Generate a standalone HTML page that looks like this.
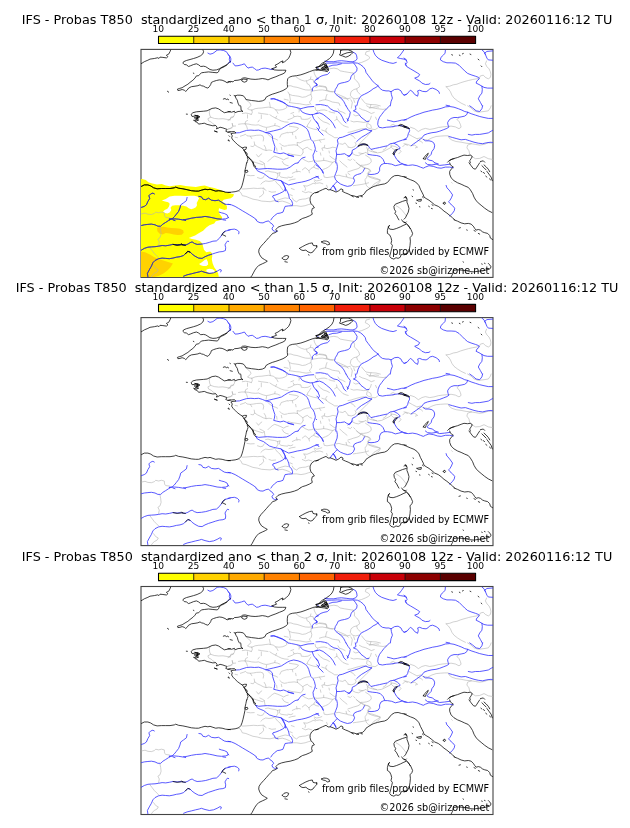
<!DOCTYPE html>
<html lang="en">
<head>
<meta charset="utf-8">
<title>IFS - Probas T850</title>
<style>
html,body{margin:0;padding:0;background:#fff}
svg{display:block;will-change:transform}
text{font-family:"DejaVu Sans","Liberation Sans",sans-serif;fill:#000}
.ti{font-size:12.81px}
.tk{font-size:9.1px;text-anchor:middle}
.an{font-size:9.68px;text-anchor:end}
.c{fill:none;stroke:#000;stroke-width:.75;stroke-linejoin:round;stroke-linecap:round}
.r{fill:none;stroke:#3030ff;stroke-width:.8;stroke-linejoin:round;stroke-linecap:round}
.b{fill:none;stroke:#b2b2b2;stroke-width:.6;stroke-linejoin:round;stroke-linecap:round}
.r2{fill:none;stroke:#3a3a8c;stroke-width:.8;stroke-linejoin:round;stroke-linecap:round}
.b2{fill:none;stroke:#c8c896;stroke-width:.7}
.fr{fill:none;stroke:#444;stroke-width:1.1}
</style>
</head>
<body>
<svg width="630" height="828" viewBox="0 0 630 828">
<rect width="630" height="828" fill="#fff"/>
<defs>
<clipPath id="cpf"><rect x="141.0" y="49.4" width="352.0" height="227.5"/></clipPath>
<clipPath id="cp"><rect x="141.0" y="49.4" width="352.0" height="228.0"/></clipPath>
<path id="pb" d="M313.7,70.2 L314.4,73.8 L316.3,77.4 L318.3,78.1 M369.6,50.9 L366,51.9 L365.3,54.5 L368.1,55.9 L370,57.7 L368.1,59.5 L365.3,60.9 L361.7,62.4 L358.9,63.1 M329.6,68.8 L333.9,68.1 L337.4,68.8 L340.3,70.9 L344.6,71.7 L348.9,72.4 L353.1,73.1 M353.1,73.1 L354.6,75.9 L354.3,78.8 L356.7,80.9 L358.9,83.8 L359.6,86.7 L356.7,88.8 L357.4,91.7 L360.3,94.5 M356.7,88.8 L353.9,89.5 L351,91.7 L350.3,95.2 L352.4,98.1 L355.3,98.8 L358.9,98.1 M316,87.4 L318.9,86.2 L322.4,86.7 L326,87.4 L326.7,90.2 L330.3,91.4 L334.6,91.7 M338.9,96.7 L343.1,98.1 L346.7,98.8 L350.3,98.1 M361.7,98.8 L363.9,101.7 L366,103.8 L370.3,104.5 L376,104.8 L380.3,105.9 M446.1,86.7 L449.7,86.2 L453.3,84.8 L456.9,84.2 L460.4,82.8 L464,81.7 L468.3,80.5 L472.6,79.5 L476.9,78.8 L479.3,78.1 L480.4,75.9 L483.3,75.2 L485.4,77.4 L488.3,78.8 L490.4,77.4 L490.9,74.5 L490.4,71.7 L489,68.8 L486.9,66.7 L485.4,63.8 L486.6,60.9 M446.1,86.7 L448.3,88.8 L450.4,91.7 L451.9,95.2 L454,98.1 L457.6,100.9 L461.1,103.1 L465.4,105.2 M210,109.4 L209.3,112.2 L209.7,115.1 L210.7,117.2 L214.3,118.4 L218.6,118.9 L222.9,118.7 L227.1,119.4 L230.3,119.8 M210.7,117.2 L207.9,118.7 L208.6,120.8 L211.4,122.2 L212.9,123.7 L215.7,125.5 M371.7,130.8 L369.6,133.7 L366.7,136.5 L363.1,140.1 L360.3,142.9 L358.9,144.4 M371,149.4 L373.1,151.5 L377.4,152.9 L381.7,152.2 L386,150.1 L390.3,147.9 L391.7,145.8 L395.3,146.5 L398.9,148.7 L401,151.5 L398.9,153.7 M366.7,105.8 L368.9,107.2 L373.1,107.9 L377.4,108.7 L383.1,109.4 L386.7,108.7 M358.9,152.9 L363.1,153.7 L366,152.2 L368.1,154.4 L367.4,150.1 L368.9,147.9 M410.4,127.2 L414.7,128.7 L418.3,131.5 L421.9,129.4 L425.4,128.4 L429.7,129.4 L434,128.7 L438.3,127.5 L442.6,126.9 L446.9,126.5 L451.1,126.1 L455.4,126.9 L459,128.7 L461.1,127.2 L460.4,124.4 L459,121.5 L456.9,119.4 L459,117.9 M409,134.4 L412.6,136.5 L416.9,138.7 L420.4,137.9 L423.3,139.4 L427.6,140.1 L431.9,137.9 L436.1,136.5 L440.4,136.1 L444.7,135.8 L448.3,135.8 L449,137.9 L451.9,140.1 L456.1,141.5 L461.1,142.2 L466.1,143.2 L471.1,143.7 M467.6,105.8 L471.1,107.9 L474,110.8 L478.3,112.2 L484,111.5 L488.3,110.8 L490.4,107.9 L491.1,105.8 M404,143.7 L407.6,144.4 L411.1,145.8 L414.7,145.1 L417.6,147.2 L415.4,147.9 M417.6,140.1 L421.1,141.5 L422.6,142.9 M471.1,143.7 L467.6,145.1 L466.9,147.9 L469,150.8 L469.7,154.4 L471.9,156.5 M471.1,143.7 L475.4,144.4 L479.7,145.1 L484,144.4 L488.3,142.9 L492.6,143.2 M471.9,156.5 L475.4,158.7 L479.7,158.4 L484,156.5 L488.3,158.7 L492.6,159.4 M140,214.2 L141.4,213.9 L145,213.1 L147.9,214.2 L151.4,214.5 L154.3,213.5 L155.7,212.1 L158.6,212.8 L161.4,212.1 L164.3,212.8 L164.6,215.9 L165.7,217.4 L169.3,217.8 M238.7,190.7 L240.9,192.8 L242.3,195.7 L245.9,196.4 L249.4,197.8 L253,199.2 L257.3,199.9 L261.6,201.1 L265.9,201.4 L270.1,201.7 L274.4,200.7 L278,201.7 L282.3,201.1 L285.9,202.1 L289.4,203.5 L292.3,205.7 L296.6,205.7 L300.9,206.4 L305.1,205.7 L308.7,204.5 L311.6,203.9 M371,187.8 L373.9,184.2 L377.4,182.1 L380.3,179.9 L376.7,178.5 L372.4,177.1 L368.9,176.4 L367.4,173.5 L369.6,170.7 L368.1,168.5 L364.6,168.5 L361.7,166.4 L358.9,164.9 L356.7,162.8 M396,205.7 L399.6,207.8 L402.4,210.7 L404.6,213.5 L406.3,215.7 M451.6,182.5 L452.3,183.2 M160,226.9 L160.7,230.5 L161.1,234.1 L160,237.7 L157.9,239.1 L159.3,241.9 L158.6,245.5 M150,247.7 L152.1,250.5 L154.3,253.4 L156.4,255.5 L158.6,257.7 M153.6,265.5 L155.7,268.4 L158.3,269.8 L157.1,271.9 L154.3,273.4 L152.1,275.5 L151.4,276.9 M246.6,100.1 L248.5,102 L250.4,103.5 L250.9,105.4 L249.4,107.3 L247.5,108.7 L249.4,109.7 L251.8,110.1 M251.8,110.1 L255.1,108.7 L258.5,108.2 L261.8,108 L265.1,107.5 L268.5,107.1 L270.9,107.5 L273.2,108 L275.6,109.7 L277,111.6 L278,113.5 M269.4,102.3 L269.9,104.9 L270.4,107.3 M275.6,109.7 L279,110.1 L282.3,109.7 L285.1,108.7 L287,107.3 L286.1,105.4 L287.5,104.4 M251.8,110.1 L252.3,112.5 L251.3,114.4 M242.3,113.5 L245.6,113 L248.5,113.5 L251.3,114.4 M284.2,99.2 L286.6,99.7 L288.2,100.1 M258.5,113 L261.3,113.5 L264.2,113.9 L268,114.4 M288,85.8 L290.9,85.8 L293.7,86.8 L297,87.3 L299.9,88.2 L302.8,89.2 L305.6,89.9 L309,90.1 L311.8,89.7 M296.1,76.8 L298.5,78.7 L301.3,80.1 L304.7,81.1 L307.5,80.6 L310.4,79.2 L313.2,79.7 L313.7,82.5 L316.6,83.9 M310.4,79.2 L310.9,76.8 M306.6,81.1 L307,83.5 L309.4,84.9 L310.4,87.3 L311.8,89.7 M311.8,91.1 L315.1,90.6 L318.5,90.1 L322.3,89.9 L326.1,90.6 L329.4,91.6 L332.8,92 M319.4,85.8 L322.8,86.1 L326.1,86.8 L327,89.2 L326.1,90.6 M288,92 L289.4,94.4 L292.3,95.4 L295.6,95.8 L299,96.3 L302.3,97.3 L305.6,96.8 L308.5,95.4 L310.9,94.4 L311.3,91.1 M289.4,94.4 L289.9,97.3 L290.4,100.1 L289.4,102.5 M289.4,102.5 L292.8,103 L296.1,103.5 L299.4,103.7 L302.8,104.4 L306.1,104.9 L309.4,104.4 M310.9,94.4 L311.8,97.3 L311.3,100.1 L309.4,102 L310.9,104.4 M327,94.4 L326.1,96.8 L325.6,99.7 L322.8,100.1 L319.4,101.1 M325.6,99.7 L329,100.6 L332.3,102 L335.6,102.5 L339,103 L339.9,105.4 M337,93.9 L340.4,95.4 L343.7,96.8 L346.6,98.2 L348.2,100.1 M315.1,107.3 L315.6,109.7 L317.5,111.1 M317.5,111.1 L320.9,110.1 L324.2,109.9 L327,110.6 M338,108.7 L339.4,111.1 L342.3,112 L345.1,113.5 M329,111.6 L331.8,112.5 L334.7,113 M290.9,113.5 L293.7,112.5 M297.5,108.2 L299.4,109.7 L299,112 M350.9,99.7 L352.3,102.5 L351.8,105.4 L351.3,108.2 M353.7,99.7 L354.7,102.5 M370.9,104.4 L370.4,106.8 L369.4,108.2 L372.8,107.3 L375.6,106.8 L378.5,107.1 M359.4,108.2 L362.3,109.7 L365.6,110.6 L368.5,112 L371.3,113.5 L374.2,112.5 M238.5,124.3 L241.8,123.8 L245.1,123.8 L248.5,124.1 L251.8,124.8 L255.6,125.1 L258.5,124.8 L260.9,125.8 L263.2,126.7 L266.1,127.4 L269,127 L271.8,126.2 L274.7,125.5 L277.5,126 L279.9,127 M245.1,123.8 L245.6,121.5 L247.5,120.5 M245.1,123.8 L246.6,126.2 L247.5,129.1 M247.5,114.8 L247.5,118.1 M261.3,114.8 L261.3,118.6 M259.4,120 L258,121.9 M275.1,123.4 L274.7,125.5 M266.6,128.1 L266.1,131 M232.3,123.4 L232.8,126.2 L235.6,126 M228,120.5 L229.9,119.6 L230.9,117.2 L233.7,116.7 M228,129.1 L230.4,128.6 L232.3,127.7 M240.4,136.2 L243.2,135.3 L245.6,134.3 L247,135.8 L250.4,136.2 L253.7,135.8 L256.6,135.3 L260.4,135.1 L262.8,135.8 L263.7,138.1 L263.2,141 M250.4,136.2 L251.8,138.6 M268,134.3 L270.4,136.7 L272.8,138.1 L275.6,139.1 L277.5,140 M279.9,137.2 L281.3,134.3 L284.2,133.4 L287.5,132.4 M235.1,137.2 L237.5,137.7 M254.2,141.9 L254.7,144.8 L253.2,146.7 L250.9,146.2 M254.7,144.8 L257.5,146.7 L260.4,148.1 L263.2,149.6 L266.1,150.5 L269,150 L271.8,150.5 M264.2,145.3 L265.6,147.7 L266.1,150.5 M279.9,143.4 L281.8,145.3 L284.2,146.2 L287,145.8 M276.6,148.1 L277,151 M281.3,147.2 L281.8,149.6 M269.9,114.8 L272.8,116.7 L275.6,118.1 L278.5,119.6 L281.3,121 L284.7,121.9 L288.2,122.2 M275.6,118.1 L276.6,116.2 M293.2,114.8 L294.2,116.7 L292.3,118.1 L289.9,119.1 L288,119.6 M294.2,116.7 L297.5,116.2 L300.9,116.7 L301.3,119.1 L304.7,119.4 L308,119.1 L310.4,117.7 M310.9,120 L309.4,122.4 L308,124.3 L307,126.7 M307,126.7 L310.4,128.1 L313.7,129.1 L317,129.6 M289.4,126.2 L292.8,126.7 L296.1,127.2 L298.5,128.1 L297,130 L294.7,131.5 L292.3,132.4 L289.4,132.4 L288,132.9 M292.3,132.4 L292.8,134.8 M295.6,136.2 L296.1,138.6 M318,117.2 L320.9,120 L323.7,121.9 L327,122.9 L329.4,124.3 M334.7,120.5 L337,119.1 L339.9,122.4 L342.8,125.3 L346.1,126.7 L348.2,127.2 M337,119.1 L336.6,116.7 M327,128.1 L325.6,130 L326.6,132.4 L329,134.3 L331.8,135.8 L334.7,137.7 L337.5,137.7 M321.8,130 L324.7,131 L326.6,132.4 M288,145.3 L290.9,145.1 L294.2,144.8 L297.5,145.3 M297.5,145.3 L297,142.4 L299.9,142.9 L303.2,141 L306.6,140 L309.4,139.6 M297.5,145.3 L300.4,147.7 L302.8,149.6 L305.1,148.1 L307.5,147.2 L309.4,149.1 L311.8,150 M302.8,149.6 L303.2,152.4 M313.7,141 L316.6,140.5 L319.4,140 L320.9,142.4 M319.4,140 L322.3,139.6 L324.7,139.1 M324.7,145.3 L324.2,147.7 L321.8,148.1 L322.8,150.5 M324.2,147.7 L327,148.6 L329.9,148.1 L332.8,147.2 L335.6,147.7 M339.9,143.8 L342.8,144.3 L345.1,142.9 L347,145.3 L348.2,146.7 M329,151 L329.4,152.9 M353.7,114.8 L355.6,115.8 L358.5,115.3 M350.9,121 L353.7,121.9 L357,121.5 L360.4,121.9 L363.7,122.4 L366.6,121.9 M371.3,116.2 L370.4,119.1 L368.5,121.5 L367,123.8 L366.6,126.7 L368.5,128.1 L371.8,129.1 L375.1,129.6 L377.5,128.1 M368.5,123.8 L370.9,125.3 L371.3,127.7 M348,132.4 L350.9,131.9 L353.7,131 L357,130 L360.4,129.1 L363.7,128.6 L366.6,129.1 M375.6,117.2 L376.6,119.6 M390.9,125.3 L393.2,124.3 L395.6,125.8 L392.8,127.2 M350.9,135.3 L353.2,136.2 L355.1,138.6 M355.1,142.4 L356.1,144.3 L354.7,146.7 L351.3,147.7 L348,147.2 M366.6,147.2 L367.5,149.6 L369.9,151 L372.8,151.9 L376.6,152.4 M390.9,144.3 L391.3,147.2 L393.2,149.1 L395.6,150 M402.8,146.7 L405.1,144.3 L407.5,145.3 M386.6,146.2 L385.6,148.6 L383.2,150 M256.6,154.7 L258.5,157.1 L259.9,155.2 L261.8,153.8 M268,161.4 L270.4,159 L272.8,157.1 L274.7,156.1 L277.5,157.1 L280.9,158.5 L283.7,159.9 L286.1,158.5 L288.2,158 M253.7,161.8 L256.6,162.8 L259.9,163.8 L262.8,164.7 L264.2,163.3 L264.7,166.1 L265.1,168.5 M259.9,160.9 L262.8,162.3 L264.2,163.3 M282.3,161.4 L283.7,163.8 L286.1,165.2 L288.2,165.7 M247,175.2 L250.4,175.7 L254.2,175.5 M257.5,177.6 L260.4,178.5 L262.8,178 L264.2,175.7 M265.6,171.4 L268,170.9 L270.9,171.8 L274.7,172.3 L277.5,173.3 L279.9,172.8 M279.9,172.8 L279.4,175.7 L280.9,177.1 L284.2,177.6 L287.5,178 M277.5,173.3 L278,176.1 L276.6,178.5 M260.9,184.2 L262.8,182.3 L265.6,180.9 L269,181.4 L272.3,180.9 L275.1,179.9 M275.6,181.4 L277.5,183.8 L279.9,185.7 L281.3,188 L283.2,190.4 M242.3,189 L246.1,188.8 L249.9,188.5 L253.7,188.2 L257.5,188.5 L261.3,188.2 L264.2,189 L266.1,190.4 M263.2,187.6 L264.2,189 M288,153.3 L290.9,154.2 L293.7,154.7 L297,155.2 L300.4,155.7 L302.3,154.2 L302.8,152.8 M302.3,158.5 L305.1,160.4 L308.5,161.8 L311.8,161.4 L313.2,160.9 M314.2,160.9 L317.5,161.2 L320.9,160.9 L323.7,160.4 L327,160.9 L329.9,161.8 L332.8,162.3 L335.6,160.9 M323.7,158 L323.7,160.4 M320.4,152.8 L320.9,155.2 M329.9,156.1 L332.3,158 L334.7,159.5 L336.6,158.5 M332.8,162.3 L330.9,164.7 L328.5,167.1 L325.6,168.5 L322.8,169.5 M302.3,169.9 L305.1,167.6 L307,169 L309,170.9 L310.9,168.5 L313.7,167.1 L315.1,164.7 M309,170.9 L309.4,172.8 M313.7,167.1 L316.1,168.5 L318.5,169 M292.3,173.3 L295.6,171.8 L299,171.4 L300.4,171.8 M296.6,169.5 L297,171.8 M288,177.1 L290.9,177.6 L292.8,176.6 M289,180.4 L291.8,179.5 L295.1,179 M323.7,174.7 L324.2,177.1 L327,177.6 L330.4,177.1 L333.2,176.6 L334.7,177.1 M314.2,179.9 L316.6,180.9 L319.4,180.4 L321.8,179.5 M314.2,181.4 L316.6,183.3 L319.9,182.8 L322.8,183.8 M303.7,185.7 L307,186.1 L310.4,184.7 L313.2,183.3 L315.6,183.8 M336.1,175.7 L339,175.2 L341.8,176.1 L344.7,176.6 L347.5,177.1 M339.9,160.9 L342.3,163.3 L344.7,165.2 L347,167.1 M346.1,174.2 L346.6,176.6 M326.6,185.2 L327.5,187.6 M291.3,188.5 L294.2,189.5 M304.2,186.1 L305.6,188.5 L305.1,190.4 M352.8,153.8 L355.6,155.2 L358.5,155.7 L361.3,154.2 L363.2,153.3 M365.6,155.2 L368.5,157.1 L370.9,159 L371.3,161.8 L369.4,163.8 L366.6,164.7 L363.7,165.2 L361.3,165.2 M353.7,159.5 L355.1,160.9 M356.1,162.3 L358.5,164.2 L360.9,165.7 L359.4,168 L357,169 L353.7,169.9 L350.9,170.9 L348,171.8 M360.9,165.7 L363.7,167.1 L367,168.5 L369.9,169.5 L370.9,171.4 L368.5,172.8 L368.5,174.2 M367.5,175.2 L366.6,177.6 L365.1,179.5 M368.5,176.6 L371.8,178 L375.1,179 L378.5,179.5 L380.4,180.4 L379,182.8 L376.6,184.7 M348,177.6 L350.4,178 L352.8,178.5 M353.2,185.7 L356.6,185.2 L359.9,184.7 L363.2,184.2 L366.6,183.3 L368.5,182.8 M365.1,180.4 L365.6,183.3 L366.6,185.7 L368.5,187.6 L370.4,188.5 M348,173.3 L349.9,174.7 M348,159.5 L350.4,160.4 L351.8,159 M263.2,190.8 L263.7,193.2 L261.8,195.6 L259.4,197 M269,191.3 L271.8,192.2 L275.6,191.8 M277.5,200.3 L281.3,198.9 L285.1,197.9 L288.2,198.4 M292.3,197.9 L293.7,200.3 L296.6,201.8 L299,199.8 L302.3,199.2 L305.6,198.9 L308.5,197.9 M302.3,191.3 L305.6,192.7 L308.5,191.8 L311.8,192.7 M289.9,194.6 L292.3,195.6 M229.8,119.5 L230.8,118.1 L233.1,117.1 L234.6,114.8 L234.1,111.9 M232.2,123.8 L232.7,126.2 L230.8,128.1 L228.4,129"/>
<path id="pr" d="M207.9,53.1 L210,54.2 L212.9,53.4 L215,51.9 L217.1,50.2 L220,49.9 L223.6,50.5 L226.4,51.7 L228.3,54.5 L229.7,56.7 L229.3,59.5 L230.3,62.4 M228,54.5 L229.7,55.9 L230.9,58.8 L230.6,61.7 L228.7,63.1 L228,63.4 M233,63.1 L235.1,65.9 L238,65.7 L241.6,64.8 L244.4,63.8 L245.9,65.9 L248,68.1 L250.1,67.4 L252.3,67.1 L254.4,68.5 L256.6,70.2 L258.7,69.9 L261.6,68.5 L265.1,68.1 L268.7,68.8 L270.9,69.5 L273.7,68.8 M270.9,98.8 L273.7,98.5 L276.6,99.5 L279.4,100.5 L282.3,101.7 L285.1,103.4 L287.3,105.2 L288,105.9 M271.1,99.1 L274,98.9 L276.9,99.9 L279.7,101.1 L282.6,102.2 L285.4,103.9 M318.3,78.8 L315.9,79.5 L314.4,81.7 L315.9,83.8 L317.3,85.2 L314.4,86.2 L312.6,88.1 L312.3,90.9 M316.9,67.4 L318.3,68.5 M326,63.1 L331.7,63.1 L337.4,62.8 L343.1,63.1 L348.9,63.1 L353.4,62.8 L357.4,63.1 L360.3,64.5 L363.1,66.7 L365.3,69.5 L366,72.4 L368.1,75.2 L370.3,78.1 L372.4,80.9 L375.3,83.8 L378.1,85.7 L379.6,88.1 L382.4,90.2 L386,90.9 L388.9,90.9 L391,91.7 L394.6,89.5 L398.1,89.1 L401,90.9 L402.4,93.8 L404.6,95.2 L406.3,94.2 M391,91.7 L391.4,94.5 L392.4,98.1 L391,101.7 L390.3,105.9 M378.1,85.7 L376,87.4 L373.1,88.8 L371,90.5 L368.1,92.4 L364.6,94.2 L361.4,95.7 L359.6,98.1 L358.1,100.9 L357.4,103.8 L356.7,105.9 M353.4,62.8 L355.3,65.2 L357.1,68.1 L356.7,70.9 L354.6,73.1 L352.4,74.5 L351,76.7 L350.3,79.5 L348.1,81.4 L344.6,82.4 L341,83.1 L338.1,84.2 L337.1,86.7 L335.3,89.5 L334.6,92.4 L336,94.5 L338.9,96.7 L341.7,98.8 L343.9,101.7 L345.3,104.5 L346,105.9 M329.6,72.4 L327.4,74.5 L323.9,75.2 L321,76.2 L318.1,78.1 L316,79.5 M316,83.1 L317.4,84.5 L316,86.2 M373.1,49.9 L373.9,52.4 L375.3,55.2 L378.1,58.1 L381.7,60.2 L386,61.7 L389.6,62.8 L393.1,63.4 L396.3,62.4 M403.9,49.9 L401.7,53.1 L399.6,55.9 L397.4,57.7 L400.3,58.5 L403.9,59.1 L406.3,60.2 M405.3,63.1 L406.3,65.9 M316,104.8 L320.3,104.5 L324.6,105.2 L326.7,105.9 M404,58.1 L406.1,59.5 L407.1,62.4 L405.4,64.5 L406.9,66.7 L410.4,68.8 L414,70.9 L417.6,73.1 L419.7,74.5 L418.3,76.7 L414.7,78.1 L416.9,79.5 L419.7,80.9 L421.9,83.1 L425.4,84.5 L429,84.2 L430,83.4 M404,95.2 L406.9,94.2 L409,91.7 L410.4,90.2 L412.6,91.7 L414.7,94.5 L417.6,96.2 L418.3,93.1 L417.6,90.9 L419.7,90.2 L422.6,91.4 L426.1,91.7 L428.3,90.5 L429.7,88.8 L432.6,88.1 L436.1,89.5 L439,91.7 L439.4,93.4 M445.4,49.9 L445.1,53.1 L443.3,55.2 L440.9,57.4 L440.4,59.9 L443.3,61.7 L446.9,62.8 L451.1,62.8 L455.4,63.1 L459,65.2 L461.9,68.1 L464.7,70.9 L467.6,73.4 L471.1,74.8 L475.4,76.2 L478.6,77.4 L479.3,78.8 L476.9,80.9 L476.1,83.1 L479,84.5 L481.9,86.2 L484,87.4 L487.6,88.1 L492.6,88.1 M481.9,86.2 L482.3,89.5 L481.9,93.1 L479.7,95.9 L478.3,98.8 L480.4,102.4 L482.3,105.9 M481.9,49.9 L484,51.7 L485.4,54.5 L486.9,58.1 L488.3,59.9 L492.6,60.2 M485.4,54.5 L484.7,53.1 L486.9,51.4 L492.6,50.9 M446.1,105.2 L449.7,105.9 M235.9,132.9 L239.4,132.7 L243,131.5 L246.6,130.4 L250.9,130.1 L254.4,130.4 L258.7,130.1 L262.3,131.2 L265.9,132.7 L269.4,131.8 L273.7,130.8 L278,129.8 L281.6,128.7 L284.4,126.9 L287.3,125.1 L290.1,123.7 L293.7,122.9 L298,123.7 L301.6,125.1 L305.1,127.2 L307.3,129.4 L308.7,132.2 L309.7,135.8 L310.9,139.4 L313,141.5 L314.4,144.4 L315.4,148.7 L314.4,152.2 L313,155.1 L313.4,158.7 L315.1,162.9 M265.9,132.7 L270.1,133.7 L272.3,135.8 L272.6,139.4 L273.7,142.9 L274.9,146.5 L274.4,150.1 L273.7,152.2 L276.6,152.9 L280.1,153.7 L283.7,152.9 L286.6,154.1 L290.1,155.5 L293.4,156.1 M298,162.9 L300.1,160.1 L302.3,157.9 L305.1,157.2 M288,105.8 L291.6,106.5 L295.1,107.2 L298,107.9 L300.9,108.7 L303.7,107.9 L308,106.9 L313.7,106.5 M300.1,109.4 L302.3,112.2 L305.9,113.7 L310.1,114.7 L313.7,114.4 L317.3,112.9 M312.3,115.1 L313.7,118.7 L315.9,121.5 L318.3,123.7 M316.9,127.9 L318.3,129.4 M316,113.7 L319.6,112.9 L323.1,114.4 L326.7,117.2 L330.3,120.1 L333.1,123.7 L335.3,127.9 M327.4,105.8 L330.3,108.7 L333.9,110.8 L337.4,111.5 L340.3,113.7 L342.4,117.2 L343.9,120.8 L346,122.9 M316,121.5 L318.1,124.4 L319.6,127.9 L318.1,130.1 L321,132.9 L323.1,135.1 M346,105.8 L348.1,109.4 L350.3,112.2 L349.6,115.8 L348.1,119.4 L347.4,121.2 M355.3,105.8 L356,109.4 L353.4,110.8 L356.7,112.2 L358.9,114.4 L361,117.2 L363.9,119.4 L366.7,121.5 L368.9,121.2 M389.6,105.8 L386.7,108.7 L383.9,111.5 L381.7,114.4 L379.6,117.2 L378.1,120.8 L377.7,124.4 L378.9,127.2 L382.4,127.9 L386.7,127.2 L391,126.9 L395.3,126.1 L399.6,125.5 L402.4,125.8 L406.3,127.2 M371.7,130.8 L368.1,130.1 L366,128.9 L363.1,129.8 L358.9,131.5 L354.6,132.9 L350.3,134.1 L346,135.8 L342.4,137.2 L338.9,137.9 L337.4,140.1 L338.1,143.7 L337.1,147.2 L336,150.8 L336.7,154.4 L336,158.7 L335.7,162.9 M371.7,130.8 L368.9,132.9 L365.3,135.1 L361.7,137.2 L358.9,139.4 L356.7,141.5 M336.7,154.4 L340.3,154.4 L344.6,153.7 L346.7,155.1 L349.6,156.5 L351.7,153.7 L352.4,150.1 L355.3,148.7 L358.1,146.5 L360.3,144.7 L364.6,144.1 L368.1,145.5 L369.6,147.9 L371,149.4 L375.3,148.4 L379.6,147.5 L383.9,146.5 L387.4,145.8 L390.3,143.7 L393.9,143.2 L398.1,141.5 L402.4,140.1 L406.3,139.4 M387.4,120.1 L390.3,120.8 L393.9,121.8 L397.4,121.2 L401.7,120.1 L406.3,119.8 M393.9,143.2 L397.4,145.1 L400.3,147.9 L398.1,149.4 L395.3,150.8 L393.9,152.9 L394.6,155.8 L396.7,159.4 L399.6,162.2 M368.1,154.4 L372.4,155.1 L376.7,155.5 L380.3,156.5 L383.1,159.4 L384.6,162.9 M316,150.8 L316.7,151.5 M404,120.1 L407.6,118.7 L411.1,116.9 L415.4,115.1 L419.7,113.7 L424,112.2 L428.3,111.2 L432.6,110.1 L436.9,109.4 L441.1,108.4 L445.4,106.9 L449.7,106.5 L454,107.2 L458.3,108.7 L461.9,110.1 L464.7,111.5 L467.6,112.2 L471.1,113.7 L475.4,115.1 L479.7,116.5 L484,117.5 L488.3,118.4 L492.6,118.4 M467.6,112.2 L466.9,114.4 L464.7,116.1 L461.1,116.9 L457.6,117.5 L454,117.5 L451.1,118.4 L449,120.1 L447.6,122.7 L448,125.1 L449,126.9 L446.9,128.4 L443.3,129.8 L439.7,131.2 L436.1,132.2 L431.9,132.7 L427.6,133.7 L424,135.1 L421.9,137.9 L419,140.1 L416.1,142.2 L413.3,144.1 L411.1,145.8 M406.1,126.9 L409,128.7 L409.7,130.8 L408.3,133.7 L407.6,136.5 L406.1,138.7 L404,139.4 M423.3,139.4 L425.4,140.8 L429,140.8 L431.9,141.5 L434,143.2 L434.7,145.8 L434,148.7 L431.9,151.5 L431.1,154.4 L429,156.5 L426.9,158.7 L429,160.1 L432.6,160.8 L434.7,162.9 M449,136.5 L452.6,137.5 L456.9,138.7 L461.1,139.8 L465.4,139.4 L469.7,140.8 L474,142.2 L478.3,143.2 L482.6,143.7 L486.9,142.7 L491.1,142.2 L492.6,142.7 M468.3,134.4 L471.9,135.1 L475.4,134.4 L479.7,134.4 L484,133.7 L488.3,132.9 L491.1,131.2 L492.6,130.4 M469.7,105.8 L472.6,107.9 L476.1,110.8 L479.7,111.5 L481.9,108.7 L482.6,105.8 M140,207.7 L141.4,207.4 L144.3,206.4 L146.4,204.9 L147.9,201.4 L149.7,198.5 L148.9,195.7 L150.7,193.9 L152.9,193.1 L154.3,193.9 M187.1,197.4 L186.4,200.7 L183.6,202.8 L180.7,204.9 L180,207.8 L178.6,211.4 L176.4,214.2 L174.3,216.8 L172.1,218.8 L169.3,219.2 M198.9,196.4 L201.4,196.8 L202.9,199.2 L205.7,199.7 L208.6,198.2 L211.4,200.2 L215,200.7 L218.6,200.2 L221.4,202.1 L224.3,203.9 L227.1,204.5 L230.3,204.5 M169.3,219.2 L174.3,218.8 L178.6,219.2 L182.9,219.9 L187.1,219.2 L191.4,218.2 L196.4,217.4 L201.4,217.1 L205,216.4 L209.3,217.1 L212.9,217.8 L217.1,218.8 L221.4,219.2 L225.7,218.8 L228.3,217.8 L227.1,214.9 L224.3,213.5 L221.4,212.8 L219.3,212.1 M255.9,168.2 L258.7,169.2 L263,168.8 L267.3,168.5 L272.3,168.8 L277.3,169.2 L282.3,169.2 L286.6,168.8 L290.1,167.1 L293,164.9 L295.1,163.5 L298,162.8 M255.9,168.2 L257.3,170.7 L260.1,172.1 L263.7,173.5 L266.6,175.7 L269.4,177.8 L273.7,179.2 L277.3,179.9 L280.9,180.7 L283,182.8 L284.4,185.7 L285.4,188.5 L284.4,190.7 L282.3,192.1 L279.4,193.5 L275.9,194.9 L273,195.7 L272.6,197.1 L274.4,198.5 L275.1,200.7 L278,201.7 M280.9,180.7 L284.4,182.8 L288.7,184.9 L293,183.9 L297.3,182.8 L301.6,182.1 L305.9,181.1 L310.1,179.7 L313.7,177.8 L318.3,176.4 M285.4,188.5 L287.3,191.4 L288.7,194.9 L289.4,198.5 L291.6,200.7 L292.6,203.5 L292.3,205.7 L288.7,205.9 L285.1,206.4 L284,209.2 L283,212.1 L280.1,213.1 L277.3,213.5 L274.4,215.7 L272.3,217.8 L270.9,219.9 M228,204.2 L231.6,204.9 L235.1,206.4 L238.7,208.5 L242.3,210.7 L245.9,212.8 L249.4,214.9 L253,217.1 L255.9,219.2 L256.6,219.9 M228,217.1 L228.7,217.8 M315.9,162.8 L317.3,164.9 L318.3,165.7 M336.7,162.8 L337.4,166.4 L337.1,169.9 L335.7,173.5 L334.6,176.4 L335.3,179.2 L337.1,181.4 L335.3,183.5 L333.1,185.7 L331.4,187.8 L330.3,189.7 M333.1,185.7 L334.6,187.8 L336,189.9 M337.1,181.4 L340.3,183.9 L343.9,185.4 L347.4,186.4 L351,185.7 L353.4,183.5 L354.6,180.7 L353.4,177.8 L354.6,175.7 L357.4,174.5 L361,173.5 L363.1,171.4 L364.6,168.5 M406.3,164.9 L402.4,163.9 L398.9,164.9 L395.3,165.7 L391.7,164.2 L387.4,163.5 L383.9,163.5 L381,164.9 L379.6,167.8 L379.6,170.7 L378.1,173.1 L374.6,174.2 L371,174.5 L368.6,174.2 M316,164.9 L318.9,167.1 L321.7,169.9 L322.9,172.8 M316,176.4 L318.1,177.1 L318.9,178.5 M404,164.9 L408.3,165.4 L412.6,164.9 L416.9,165.7 L420.4,167.1 L423.3,168.2 L425.4,167.1 L429,165.7 L433.3,166.4 L437.6,167.8 L441.1,168.2 L445.4,167.1 L449.7,167.1 L453.3,167.8 M425.4,162.8 L427.6,164.5 L431.9,164.9 L436.1,164.2 L439.7,165.4 L444.7,164.9 L449.7,164.2 M434.7,162.8 L438.3,163.9 M446.1,185.4 L446.9,187.8 L449,189.9 L451.1,192.8 L452.6,194.9 L451.4,197.8 L450,200.2 L448.6,201.7 L450,203.5 L452.6,205.7 L454.7,208.2 L454.3,210.7 L452.6,213.1 L450.4,215.4 L449.4,215.9 M140,225.8 L141.4,225.5 L144.3,224.8 L147.9,224.4 L151.4,224.1 L155,224.8 L157.9,226.2 L160.7,226.2 L162.9,224.1 L165.7,222.4 L168.6,220.5 L170,219.8 M140,250.4 L141.4,250.1 L144.3,248.4 L147.9,247.2 L151.4,246.9 L155,246.7 L158.6,246.2 L162.1,245.5 L165.7,245.8 L169.3,245.2 L172.9,244.4 L177.1,244.8 L181.4,244.4 L185,245.2 L187.9,244.1 L190,242.7 L192.1,241.9 L194.3,243.4 L197.1,244.4 L201.4,244.1 L205.7,243.4 L209.3,242.4 L212.9,241.2 L216.4,240.9 L219.3,238.4 L221.4,235.5 L222.9,232.9 L225,231.2 L227.9,230.5 L230.3,229.8 M147.9,276.9 L147.4,273.4 L149.3,269.8 L151.4,266.2 L152.9,262.7 L155,260.5 L158.6,258.7 L162.1,258.1 L165.7,258.4 L169.3,258.7 L172.9,258.1 L176.4,257.2 L180,256.7 L183.6,255.5 L185.7,253.4 L187.9,251.5 L190,251.9 L192.1,254.1 L195,256.2 L198.6,258.1 L202.1,258.4 L205,256.7 L208.6,255.2 L212.1,254.1 L215.7,252.9 L219.3,251.9 L222.9,251.5 L225.4,250.5 L225.7,247.7 L225,244.8 L226.4,242.4 L227.4,241.2 M183.6,276.2 L187.1,274.8 L191.4,273.8 L195.7,272.7 L199.3,271.9 L201.4,271.2 L205,272.4 L209.3,273.4 L213.6,272.7 L217.1,271.2 L220,269.5 L221.4,270.1 L220.7,271.9 M172.9,219.8 L175,220.5 M183.6,219.8 L185.7,220.5 M222.9,219.8 L225.7,220.2 M255.9,219.8 L257.3,221.5 L260.1,222.7 L263,222.9 L265.9,221.5 L268.7,220.9 L270.1,222.7 L272.3,224.1 L273.7,226.2 L272,228.1 L272.6,230.1 L274.4,231.2 L277.3,231.2 M228,230.1 L230.9,229.5 L234.4,229.1 L237.3,230.1 L239.1,231.9 L238.7,233.8 M228,241.2 L228.7,241.5 M347,118.6 L348.2,120.5 M281.3,180.9 L283.2,184.2 L285.1,187.6 L285.6,190.9 M318.3,165.7 L320.9,169 L322.8,171.4 L323.4,173.3 M288,155.2 L290.9,155.7 L293.7,156.6 M333.7,185.7 L335.1,188 L336.1,190.9 M398,160.9 L400.4,162.8 L403.2,164.2 M348,156.6 L349.9,155.2 L352.3,152.8 M324.8,61.2 L329,61.7 L333.8,61.7 L337.6,61 L341.4,60.7 L346.2,61.2 L350,61.7 L352.9,61.7 L355.7,60.7 L357.1,58.8 L356.7,55.9 L355.7,53.6 L352.9,52.1 M329,66.4 L332.9,65.2 L336.7,65 L341.4,63.8"/>
<path id="pc" d="M140,64.2 L142.1,63.1 L144.3,61.7 L147.9,60.2 L150,59.1 L154.3,58.5 L157.9,57.7 L158.9,58.5 L160,57.1 L162.9,57.4 L166.4,57.9 L167.9,56.7 L166.4,55.2 L168.6,54.2 L170,51.7 L170.7,49.9 M202.9,49.9 L203.6,51.7 L202.9,53.8 L200.7,55.7 L197.1,57.4 L193.6,58.5 L190,59.5 L186.4,60.5 L183.6,61.7 L182.9,63.1 L184.3,64.5 L186.4,64.8 L188.6,66.5 L190.7,65.7 L193.6,64.5 L196.4,63.8 L198.6,64.8 L200.7,66.5 L203.6,66.2 L205.7,66.7 L207.9,68.1 L210,69.5 L212.9,70.2 L216.4,69.9 L219.3,68.8 L222.1,67.1 L225,65.7 L227.1,64.5 L229.3,62.4 L230.3,61.4 M227.1,64.8 L224.3,66.7 L221.4,68.1 L219.3,69.5 L218.6,71.7 L217.1,72.8 L212.9,72.4 L208.6,71.9 L204.3,72.4 L201.4,72.8 L200,74.2 L198.6,75.7 L196.4,75.9 L195,78.1 L192.9,80.2 L190,82.4 L187.9,84.2 L185,85.9 L182.1,87.7 L179.3,88.5 L177.4,89.2 L177.9,90.5 L180,90.2 L182.1,89.5 L184.3,90.2 L185.7,91.4 L187.1,90.2 L188.6,88.1 L191.4,86.7 L195,86.2 L197.9,85.7 L200,84.8 L201.4,85.7 L203.6,86.2 L205.7,87.4 L207.9,88.1 L209.3,86.7 L210.7,84.5 L211.4,82.4 L213.6,81.4 L216.4,80.5 L219.3,79.9 L222.1,80.2 L225,81.4 L227.1,82.8 L229.3,81.9 L230.3,82.2 M193.3,73.1 L193.9,73.4 M167.6,91.4 L168.6,92.1 L168,91.7 M223.3,99.1 L225,98.5 L226.4,99.5 L227.4,99.1 M228,81.7 L230.9,81.4 L233,81.9 L234.4,80.5 L238,80.2 L240.9,79.5 L242.3,78.1 L245.1,77.8 L248,78.5 L250.9,79.1 L255.1,79.4 L258.7,79.1 L262.3,78.5 L265.9,79.1 L268,79.9 L270.9,78.5 L275.9,76.7 L279.4,75.2 L283,73.8 L285.1,72.4 L285.9,70.2 L282.3,70.2 L278,70.2 L274.4,69.9 L271.6,68.8 L273.7,68.1 L276.6,67.1 L275.1,65.2 L278,63.8 L280.9,61.7 L283,60.9 L282.3,62.8 L284.4,61.9 L286.6,60.2 L288.7,58.1 L290.1,55.2 L290.9,52.4 L290.1,49.9 M241.6,79.9 L243.7,79.1 L247.3,79.5 L246.6,81.4 L244.4,82.2 L242.3,81.4 L241.6,79.9 M318.3,69.4 L313.7,70.2 L309.4,71.7 L305.1,73.4 L300.9,74.8 L296.6,75.7 L292.3,76.2 L289.4,77.1 L287.7,78.8 L287.3,81.7 L287.3,84.5 L287.7,87.1 L285.9,88.8 L283,90.5 L279.4,91.9 L275.9,93.1 L272.3,94.2 L268.7,95.7 L265.9,97.4 L265.1,99.5 L262.3,100.9 L258.7,101.4 L255.1,100.9 L251.6,100.5 L248,99.9 L245.9,99.5 L244.9,97.4 L243,95.7 L240.1,95.2 L237.3,95.2 L235.1,95.9 L235.9,98.1 L237.3,100.2 L238,103.1 L239.4,105.9 M229.9,95.1 L230.4,95.4 M234.1,95.5 L235.1,95.9 M228,99.4 L228.6,99.7 M230.1,102.5 L232.3,103.1 M333.9,49.9 L333.4,53.1 L332,55.9 L329.6,58.5 L326.7,60.5 L324.6,61.9 L322.4,63.1 L320.3,64.8 L318.9,66.7 L316,67.4 M318.9,66.7 L321.7,65.7 L323.9,64.2 L326,65.2 L326.7,67.1 L324.6,68.1 L322.4,67.4 L321,68.8 L323.9,69.5 L326.7,68.8 L328.6,70.2 L327.4,71.7 L324.6,70.9 L321.7,70.5 L318.9,70.2 L316,70.2 M322.4,67.4 L324.6,66.2 L326,67.4 L323.9,68.5 L321.7,68.1 M451.7,54.7 L452.6,55.1 M459.3,55.1 L460.1,55.5 M462.4,53.9 L463.3,53.5 M470,54.1 L470.9,54.5 M478.1,59.2 L479,59.9 M481.1,65.9 L481.9,66.7 M230.3,111.5 L227.1,112.2 L224.3,112.7 L221.4,110.8 L218.6,108.9 L215.7,107.9 L212.1,108.4 L210,109.4 L207.1,110.8 L203.6,111.2 L200,111.5 L196.4,111.8 L192.9,112.7 L191.1,114.4 L192.1,116.5 L195,116.1 L197.9,115.5 L200,116.9 L197.1,117.9 L194.3,117.5 L195.7,119.4 L198.6,120.1 L196.4,120.8 L193.6,120.1 L195,121.5 L197.1,122.2 L198.6,124.1 L201.4,123.7 L204.3,123.2 L207.1,124.4 L210,125.1 L212.9,125.8 L215.7,125.5 L217.1,127.2 L216.4,128.9 L217.9,128.4 L220,127.2 L222.9,127.9 L225,128.7 L227.1,129.4 L225.7,131.2 L227.9,132.2 L230.3,131.8 M195,115.5 L198.6,116.5 L196.4,118.4 L197.9,118.9 M186.3,114.1 L187.4,114.2 M214.6,131.1 L217.1,131.9 M229,135.8 L229.7,136.5 M228.1,140.5 L229.4,140.9 M228,111.5 L231.6,112.2 L234.4,111.2 L235.1,112.7 L238,111.5 L241.6,111.2 L243,111.5 L241.1,110.1 L240.9,106.9 L240.6,105.8 M228,132.2 L230.9,131.8 L234.4,131.5 L235.9,132.9 L233,133.2 L230.9,133.7 L232.3,135.8 L231.6,137.9 L233,140.1 L235.1,142.2 L237.3,144.4 L240.1,146.5 L242.3,147.9 L244.4,147.2 L246.6,147.2 L245.9,149.4 L243.7,150.1 L245.1,152.2 L247.3,153.7 L246.6,155.8 L248.7,157.2 L250.1,159.4 L251.6,160.8 L253,162.9 M242.3,147.9 L243.4,149.4 L244.9,151.2 L246.3,152.9 M247.3,157.2 L248,159.4 L247.3,161.5 L246.9,162.9 M228.4,139.9 L229,140.4 M398.9,125.5 L400.3,124.4 L402.4,124.7 L404.6,126.1 L406.3,127.2 L403.9,126.9 L401.7,126.1 L398.9,125.5 M358.1,146.1 L360.3,144.4 L363.1,143.7 L366,144.1 L368.1,145.5 L366,144.9 L363.1,144.7 L360.6,145.5 L358.1,146.1 M393.1,153.7 L393.9,151.5 L395.7,149.8 L397.4,149.4 L396,151.2 L394.6,153.2 L393.9,155.1 L393.1,153.7 M404,126.1 L406.1,126.5 L408.3,127.5 L409.7,128.7 L407.6,128.4 L405.4,127.5 L404,127.2 M447.6,162.2 L449.7,160.1 L453.3,158.7 L457.6,157.5 L461.1,156.1 L464,155.1 L467.6,155.5 L470.4,155.1 L472.3,156.5 L471.1,158.7 L469.7,160.8 L470.4,162.9 M449.4,160.8 L451.9,159.2 L454,158.7 M480.4,161.5 L483.3,160.8 L484.7,162.2 M423.3,158.7 L424.7,156.5 L426.9,154.4 L428.3,153.2 L427.6,155.1 L426.1,157.2 L425.4,159.4 L423.3,158.7 M140,186.8 L141.4,186.4 L144.3,184.9 L147.9,184.9 L150.7,185.9 L153.6,187.8 L157.1,188.8 L161.4,188.5 L165.7,188.5 L170,188.5 L174.3,187.8 L175.7,187.1 L178.6,188.2 L182.9,188.8 L187.1,189.7 L191.4,190.7 L195.7,191.1 L198.6,191.1 L201.4,190.2 L205,189.2 L207.9,189.7 L210,189.2 L212.9,190.2 L215.7,191.1 L218.6,190.7 L222.1,191.1 L225.7,192.1 L230.3,192.5 M246.6,162.8 L245.9,166.4 L245.1,169.9 L244.9,173.5 L244,177.8 L243,182.1 L242,185.7 L240.9,188.5 L238.7,190.7 L235.1,191.7 L231.6,192.1 L228,192.5 M245.1,170.7 L247.3,170.2 L248,171.7 L246.3,172.5 L245.1,171.7 M253,162.8 L253.4,164.9 L254.4,167.1 L255.9,168.2 M318.3,192.1 L314.4,192.8 L311.6,194.9 L310.1,197.8 L310.1,200.7 L310.9,203.5 L313,205.7 L314.4,207.8 L312.3,208.5 L311.6,211.4 L312.3,214.2 L309.4,215.9 L305.9,217.4 L302.3,218.5 L300.1,219.9 M316,192.8 L318.9,191.4 L322.4,189.7 L326,188.2 L328.1,189.9 L330.3,189.7 L333.1,190.7 L336,192.1 L338.9,190.7 L341,188.8 L343.1,189.9 L342.4,191.4 L345.3,192.8 L348.1,193.9 L351,195.4 L353.9,195.9 L356.7,196.8 L359.6,195.9 L362.4,195.4 L364.6,193.5 L366,191.1 L368.1,189.7 L371,187.8 L373.9,186.4 L377.4,185.4 L381,184.5 L384.6,183.9 L387.4,182.5 L389.6,179.9 L391.7,177.4 L394.6,175.7 L398.1,175.4 L401.7,176.4 L406.3,177.1 M351.7,195.9 L353.4,196.8 M356.7,197.1 L358.6,197.4 M361,196.5 L362.4,196.8 M406.3,200.2 L402.4,201.4 L398.9,202.8 L395.3,204.2 L393.9,206.4 L394.3,209.2 L395.7,211.4 L394.9,213.5 L396.7,215.7 L397.7,217.8 L398.9,219.9 M405.3,196.4 L406.3,198.5 M404,176.8 L406.9,178.2 L410.4,179.7 L414,181.1 L416.9,183.1 L419,185.7 L420.4,189.2 L421.9,192.1 L423.3,194.9 L424,197.1 L426.1,198.5 L429,200.2 L431.9,202.5 L434.7,204.9 L438.3,206.4 L441.1,208.5 L444,211.1 L446.9,213.1 L449.7,215.4 L452.6,217.8 L454.7,219.9 M416.9,200.2 L419,199.7 L421.4,199.2 L421.1,201.1 L418.3,201.1 L416.9,200.2 M413,189.8 L413.6,190.1 M412,196.2 L412.7,196.7 M415.9,203.1 L416.6,203.4 M419.4,206.7 L420,206.9 M428.6,206.2 L429.4,206.7 M431.4,208.4 L432.3,208.7 M432,204.8 L433.1,205.4 M422.3,196.8 L423.3,197.7 M449.7,162.8 L450.4,164.9 L453.3,167.1 L451.1,169.2 L449.7,171.4 L449.7,174.2 L451.1,177.8 L454,180.7 L457.6,182.8 L461.1,184.2 L464.7,185.9 L468.3,187.4 L470.4,189.9 L472.6,193.5 L474,197.1 L476.1,200.7 L479,203.5 L481.9,205.9 L484.7,208.2 L488.3,210.7 L491.9,212.5 M469,162.8 L471.1,165.7 L473.3,168.5 L475.4,169.2 L476.9,167.1 L478.3,164.9 L479.7,162.8 M481.9,165.7 L484,167.8 L486.1,169.9 M480.9,171.1 L481.9,171.9 M483.4,172.5 L484.6,173.4 M486.9,171.4 L489,174.2 L491.1,177.1 L492.3,180.7 M485.7,176.1 L486.9,177.1 M489.4,178.8 L490.6,179.9 M484,164.9 L486.1,166.8 L488.3,169.2 L489.7,171.7 M404,197.8 L406.1,196.8 L407.1,199.2 L406.9,202.1 L408,204.9 L409,208.5 L408.3,212.1 L406.9,214.9 L405.4,217.8 L404,219.2 M443.3,203.2 L443.9,202.2 L445,202.2 L445.6,203.2 L445,204.2 L443.9,204.2 L443.3,203.2 M173.1,244.4 L177.1,245.2 L181.4,244.7 L185.4,245.2 M181.7,243.8 L182.6,244.7 M185.4,253.8 L187.9,251.2 L190,252.1 M221.7,235.5 L223.1,232.9 L225.1,231.5 M222.9,234.8 L225.7,236.2 M300.1,219.8 L298,221.5 L294.4,222.9 L290.1,224.1 L285.9,224.8 L281.6,225.8 L278,227.2 L275.9,229.5 L277.3,231.2 L275.1,232.7 L272.6,233.4 L270.9,235.5 L268.7,237.7 L266.3,240.5 L263.7,243.4 L261.1,246.2 L259.1,249.1 L258.7,251.9 L259.7,254.8 L261.6,257.7 L264.4,259.5 L267.3,261.2 L265.4,262.4 L262.3,263.8 L258.7,265.5 L256.6,267.7 L254.9,270.1 L253.4,272.9 L252,275.5 L250.9,276.9 M299.4,248.4 L302.3,246.7 L305.9,244.8 L309.4,243.4 L312.3,242.9 L313,245.2 L315.1,245.8 L316.9,245.5 L316.6,247.7 L314.4,249.8 L313,251.9 L310.9,252.9 L308,251.9 L305.9,250.1 L303,250.5 L300.9,249.8 L299.4,248.4 M308.4,254.7 L309.1,255.1 M282.3,258.1 L284,256.2 L286.6,255.5 L288.7,256.2 L288,258.4 L285.9,259.8 L283.4,259.5 L282.3,258.1 M284.9,261.7 L287.3,262.2 M321.4,241.9 L323.9,240.9 L326.7,241.2 L329.1,242.4 L329.6,244.4 L327.4,244.8 L325.3,243.4 L322.9,242.9 L321.4,241.9 M316.4,246.1 L317,246.5 M406.3,224.1 L403.1,225.5 L400.3,226.9 L396.7,228.4 L393.1,229.5 L389.6,229.1 L388.1,226.9 L389.6,225.2 L388.1,227.7 L387.4,230.5 L387.4,233.4 L389.6,234.8 L391,237.7 L391.7,240.5 L391,243.4 L392.4,245.5 L391.7,248.4 L391,251.2 L390.3,254.1 L389.6,256.2 L391,258.1 L393.9,259.1 L396,257.7 L398.1,258.4 L400.3,257.2 L401,254.8 L403.1,254.1 L406.3,253.8 M401.7,219.8 L403.1,221.9 L405.3,222.9 L406.3,221.9 M404,221.9 L406.1,223.4 L408.3,225.5 L409.7,227.7 L411.1,229.8 L412.6,233.4 L411.9,235.5 L410,237.7 L410.4,241.2 L410,245.5 L409.4,249.1 L408.3,251.9 L406.9,254.1 L404,254.8 M407.6,224.8 L409,226.7 L410.4,228.7 M454,219.8 L457.6,221.2 L461.1,222.9 L464.7,223.8 L468.3,223.4 L471.1,224.1 L473.3,226.2 L474.7,228.4 L476.1,230.1 L478.3,229.5 L480.4,230.1 L482.6,231.9 L484.7,232.7 L487.6,233.4 L489.7,235.5 L490.4,238.1 L492.6,239.5 M459,228.1 L460.4,227.7 M466.6,229.9 L467.3,230.2 M474,230.5 L475.4,231.2 M478.3,233.4 L479.7,234.1 M451.1,276.9 L452.6,274.1 L453.3,270.5 L456.9,269.8 L461.1,270.1 L465.4,270.5 L469.7,271.5 L474,271.9 L478.3,271.2 L482.6,270.9 L486.9,269.8 L489.7,269.1 L491.1,266.9 L489.7,264.8 L488.3,263.4 M463,261.8 L463.6,262.2 M481.6,263.9 L482.3,264.2 M484.4,263.2 L485.1,263.5 M245.1,152.8 L246.6,155.2 L248.5,157.6 L250.9,159.5 L252.8,161.4 L253.7,164.2 L255.6,166.6 M340.5,50.7 L342.9,49.9 L348.1,49.8 L351.9,51.2 L352.9,52.6 L351,54.5 L348.1,56.4 L345.7,57.2 L342.4,55.9 L339.5,55 L340.5,53.1 L340.5,50.7 M341.9,54.7 L347.1,52.8 L351.9,52.1 M316.2,67.4 L319.5,66.4 L321.9,65 L324.3,63.1 L326.2,64 L326.7,65.9 L328.1,67.8 L328.6,69.8 L326.2,70.2 L323.3,69.3 L321.4,69.9 L319,69.6 L316.7,68.8 L316.2,67.4 M324.3,65.2 L327.1,65.8 L327.6,68.3 L325.2,67.8 L324.3,66.4 L326.7,67.4 M214.6,131 L216,131.6 L217,131.9 M195,115.2 L197.9,116 L196.5,117.1 L198.4,118.1 L196,119"/>
<g id="map" clip-path="url(#cp)">
<use href="#pb" class="b"/>
<use href="#pr" class="r"/>
<use href="#pc" class="c"/>
</g>
<clipPath id="ycp"><path clip-rule="evenodd" d="M138,179.1 L142,179.1 L145.9,179.9 L148.3,182.3 L152.3,183.4 L157,184.4 L161.8,183.9 L165.8,185.5 L169.7,186.3 L175.3,185.5 L180.1,185 L185.6,186 L190.4,186.6 L195.9,187.1 L200.7,186 L204.7,185.5 L209.4,187.1 L214.2,187.9 L219,189.5 L224.5,191.8 L230.1,193.4 L234,194.2 L233.2,196.6 L230.9,198.2 L226.9,199 L223.7,199.8 L222.1,201.4 L224.5,203 L226.9,206.1 L226.9,209.3 L224.5,210.1 L220.5,208.8 L219,208.2 L218.6,210.9 L219.7,214.1 L222.1,217.2 L221.8,219.6 L219,220.4 L215.8,221.2 L214.2,223.6 L209.4,225.2 L206.3,227.6 L203.1,230.7 L199.1,233.1 L195.1,235.5 L191.2,237.1 L188.8,237.9 L192,239.1 L195.9,239.8 L199.9,241 L202.3,243.4 L203.1,246.6 L203.9,249.8 L206.3,252.2 L210.2,251.4 L211.8,253 L212.3,256.1 L211.8,259.3 L212.6,263.3 L214.2,267.2 L216.6,270.4 L218.2,273.6 L219,278.3 L138,278.3Z M161.8,200.6 L165.8,199 L169.7,196.6 L174.5,195.8 L180.1,195.8 L185.6,196.1 L190.4,195.8 L194.3,195.8 L197.5,196.6 L199.1,198.2 L198,200.6 L196.7,203 L197,205.3 L195.9,207.2 L193.6,208.5 L191.2,209.3 L188.8,208.2 L186.4,206.6 L183.2,205.7 L179.3,205.3 L175.3,205.3 L172.1,205.7 L170.5,207.7 L171.3,210.1 L169.7,212.5 L167.4,213.6 L165,213 L163.1,211.7 L164.7,210.1 L167.4,208.8 L169,206.6 L169.7,203.7 L168.2,202.2 L165,201.4Z M199.1,264.1 L201.5,262.5 L204.7,260.1 L206.6,259.3 L207.8,261.7 L208.2,264.5 L206.3,266.1 L203.1,266.1 L200.7,265.2Z M206.6,269.6 L209.4,268.8 L212.6,269.3 L215,270.9 L214.2,272.8 L211,273.1 L207.8,272.5 L206.3,271.2Z"/></clipPath>
</defs>
<g transform="translate(0,0.0)">
<text class="ti" x="317" y="23.6" text-anchor="middle" xml:space="preserve">IFS - Probas T850  standardized ano &lt; than 1 σ, Init: 20260108 12z - Valid: 20260116:12 TU</text>
<g>
<rect x="158.50" y="36.15" width="35.33" height="7.4" fill="#ffff00"/>
<rect x="193.73" y="36.15" width="35.33" height="7.4" fill="#ffd200"/>
<rect x="228.97" y="36.15" width="35.33" height="7.4" fill="#ffaa00"/>
<rect x="264.20" y="36.15" width="35.33" height="7.4" fill="#ff8200"/>
<rect x="299.43" y="36.15" width="35.33" height="7.4" fill="#ff6400"/>
<rect x="334.67" y="36.15" width="35.33" height="7.4" fill="#f01e0a"/>
<rect x="369.90" y="36.15" width="35.33" height="7.4" fill="#c80008"/>
<rect x="405.13" y="36.15" width="35.33" height="7.4" fill="#8c0000"/>
<rect x="440.37" y="36.15" width="35.33" height="7.4" fill="#5a0000"/>
<path d="M193.73,36.15v7.4M228.97,36.15v7.4M264.20,36.15v7.4M299.43,36.15v7.4M334.67,36.15v7.4M369.90,36.15v7.4M405.13,36.15v7.4M440.37,36.15v7.4" stroke="#000" stroke-width=".8" fill="none"/>
<rect x="158.5" y="36.15" width="317.1" height="7.4" fill="none" stroke="#000" stroke-width="1.05" stroke-linejoin="round"/>
<text class="tk" x="158.3" y="31.6">10</text>
<text class="tk" x="193.5" y="31.6">25</text>
<text class="tk" x="228.8" y="31.6">40</text>
<text class="tk" x="264.0" y="31.6">50</text>
<text class="tk" x="299.2" y="31.6">60</text>
<text class="tk" x="334.5" y="31.6">70</text>
<text class="tk" x="369.7" y="31.6">80</text>
<text class="tk" x="404.9" y="31.6">90</text>
<text class="tk" x="440.2" y="31.6">95</text>
<text class="tk" x="475.4" y="31.6">100</text>
</g>
<rect class="fr" x="141.0" y="49.4" width="352.0" height="228.0"/>
<g clip-path="url(#cpf)">
<path d="M138,179.1 L142,179.1 L145.9,179.9 L148.3,182.3 L152.3,183.4 L157,184.4 L161.8,183.9 L165.8,185.5 L169.7,186.3 L175.3,185.5 L180.1,185 L185.6,186 L190.4,186.6 L195.9,187.1 L200.7,186 L204.7,185.5 L209.4,187.1 L214.2,187.9 L219,189.5 L224.5,191.8 L230.1,193.4 L234,194.2 L233.2,196.6 L230.9,198.2 L226.9,199 L223.7,199.8 L222.1,201.4 L224.5,203 L226.9,206.1 L226.9,209.3 L224.5,210.1 L220.5,208.8 L219,208.2 L218.6,210.9 L219.7,214.1 L222.1,217.2 L221.8,219.6 L219,220.4 L215.8,221.2 L214.2,223.6 L209.4,225.2 L206.3,227.6 L203.1,230.7 L199.1,233.1 L195.1,235.5 L191.2,237.1 L188.8,237.9 L192,239.1 L195.9,239.8 L199.9,241 L202.3,243.4 L203.1,246.6 L203.9,249.8 L206.3,252.2 L210.2,251.4 L211.8,253 L212.3,256.1 L211.8,259.3 L212.6,263.3 L214.2,267.2 L216.6,270.4 L218.2,273.6 L219,278.3 L138,278.3Z M161.8,200.6 L165.8,199 L169.7,196.6 L174.5,195.8 L180.1,195.8 L185.6,196.1 L190.4,195.8 L194.3,195.8 L197.5,196.6 L199.1,198.2 L198,200.6 L196.7,203 L197,205.3 L195.9,207.2 L193.6,208.5 L191.2,209.3 L188.8,208.2 L186.4,206.6 L183.2,205.7 L179.3,205.3 L175.3,205.3 L172.1,205.7 L170.5,207.7 L171.3,210.1 L169.7,212.5 L167.4,213.6 L165,213 L163.1,211.7 L164.7,210.1 L167.4,208.8 L169,206.6 L169.7,203.7 L168.2,202.2 L165,201.4Z M199.1,264.1 L201.5,262.5 L204.7,260.1 L206.6,259.3 L207.8,261.7 L208.2,264.5 L206.3,266.1 L203.1,266.1 L200.7,265.2Z M206.6,269.6 L209.4,268.8 L212.6,269.3 L215,270.9 L214.2,272.8 L211,273.1 L207.8,272.5 L206.3,271.2Z" fill="#ffff00" fill-rule="evenodd"/>
<path d="M157,228.3 L159.4,227.1 L163.4,226.8 L167.4,227.6 L171.3,228 L176.1,228.3 L180.1,228.7 L183.2,230.3 L183.7,232.8 L181.7,234.7 L177.7,235 L173.7,234.4 L169.7,233.4 L165.8,233.1 L162.6,234.4 L159.4,233.4 L157.4,231.2Z M138,251.4 L141.2,251.4 L145.1,252.2 L149.9,254.5 L153.9,256.9 L159.4,259.3 L165,260.9 L169.7,262.5 L172.9,263.6 L170.5,267.2 L167.4,270.4 L163.4,273.6 L158.6,276 L153.9,277.1 L153.9,279.1 L138,279.1Z" fill="#ffd200" fill-rule="evenodd"/>
</g>
<use href="#map"/>
<g clip-path="url(#cp)"><g clip-path="url(#ycp)"><use href="#pr" class="r2"/><use href="#pc" class="c"/></g></g>
<text class="an" x="489.2" y="254.5">from grib files provided by ECMWF</text>
<text class="an" x="489.2" y="274.0">©2026 sb@irizone.net</text>
</g>
<g transform="translate(0,268.2)">
<text class="ti" x="317" y="23.6" text-anchor="middle" xml:space="preserve">IFS - Probas T850  standardized ano &lt; than 1.5 σ, Init: 20260108 12z - Valid: 20260116:12 TU</text>
<g>
<rect x="158.50" y="36.15" width="35.33" height="7.4" fill="#ffff00"/>
<rect x="193.73" y="36.15" width="35.33" height="7.4" fill="#ffd200"/>
<rect x="228.97" y="36.15" width="35.33" height="7.4" fill="#ffaa00"/>
<rect x="264.20" y="36.15" width="35.33" height="7.4" fill="#ff8200"/>
<rect x="299.43" y="36.15" width="35.33" height="7.4" fill="#ff6400"/>
<rect x="334.67" y="36.15" width="35.33" height="7.4" fill="#f01e0a"/>
<rect x="369.90" y="36.15" width="35.33" height="7.4" fill="#c80008"/>
<rect x="405.13" y="36.15" width="35.33" height="7.4" fill="#8c0000"/>
<rect x="440.37" y="36.15" width="35.33" height="7.4" fill="#5a0000"/>
<path d="M193.73,36.15v7.4M228.97,36.15v7.4M264.20,36.15v7.4M299.43,36.15v7.4M334.67,36.15v7.4M369.90,36.15v7.4M405.13,36.15v7.4M440.37,36.15v7.4" stroke="#000" stroke-width=".8" fill="none"/>
<rect x="158.5" y="36.15" width="317.1" height="7.4" fill="none" stroke="#000" stroke-width="1.05" stroke-linejoin="round"/>
<text class="tk" x="158.3" y="31.6">10</text>
<text class="tk" x="193.5" y="31.6">25</text>
<text class="tk" x="228.8" y="31.6">40</text>
<text class="tk" x="264.0" y="31.6">50</text>
<text class="tk" x="299.2" y="31.6">60</text>
<text class="tk" x="334.5" y="31.6">70</text>
<text class="tk" x="369.7" y="31.6">80</text>
<text class="tk" x="404.9" y="31.6">90</text>
<text class="tk" x="440.2" y="31.6">95</text>
<text class="tk" x="475.4" y="31.6">100</text>
</g>
<rect class="fr" x="141.0" y="49.4" width="352.0" height="228.0"/>
<use href="#map"/>
<text class="an" x="489.2" y="254.5">from grib files provided by ECMWF</text>
<text class="an" x="489.2" y="274.0">©2026 sb@irizone.net</text>
</g>
<g transform="translate(0,537.1)">
<text class="ti" x="317" y="23.6" text-anchor="middle" xml:space="preserve">IFS - Probas T850  standardized ano &lt; than 2 σ, Init: 20260108 12z - Valid: 20260116:12 TU</text>
<g>
<rect x="158.50" y="36.15" width="35.33" height="7.4" fill="#ffff00"/>
<rect x="193.73" y="36.15" width="35.33" height="7.4" fill="#ffd200"/>
<rect x="228.97" y="36.15" width="35.33" height="7.4" fill="#ffaa00"/>
<rect x="264.20" y="36.15" width="35.33" height="7.4" fill="#ff8200"/>
<rect x="299.43" y="36.15" width="35.33" height="7.4" fill="#ff6400"/>
<rect x="334.67" y="36.15" width="35.33" height="7.4" fill="#f01e0a"/>
<rect x="369.90" y="36.15" width="35.33" height="7.4" fill="#c80008"/>
<rect x="405.13" y="36.15" width="35.33" height="7.4" fill="#8c0000"/>
<rect x="440.37" y="36.15" width="35.33" height="7.4" fill="#5a0000"/>
<path d="M193.73,36.15v7.4M228.97,36.15v7.4M264.20,36.15v7.4M299.43,36.15v7.4M334.67,36.15v7.4M369.90,36.15v7.4M405.13,36.15v7.4M440.37,36.15v7.4" stroke="#000" stroke-width=".8" fill="none"/>
<rect x="158.5" y="36.15" width="317.1" height="7.4" fill="none" stroke="#000" stroke-width="1.05" stroke-linejoin="round"/>
<text class="tk" x="158.3" y="31.6">10</text>
<text class="tk" x="193.5" y="31.6">25</text>
<text class="tk" x="228.8" y="31.6">40</text>
<text class="tk" x="264.0" y="31.6">50</text>
<text class="tk" x="299.2" y="31.6">60</text>
<text class="tk" x="334.5" y="31.6">70</text>
<text class="tk" x="369.7" y="31.6">80</text>
<text class="tk" x="404.9" y="31.6">90</text>
<text class="tk" x="440.2" y="31.6">95</text>
<text class="tk" x="475.4" y="31.6">100</text>
</g>
<rect class="fr" x="141.0" y="49.4" width="352.0" height="228.0"/>
<use href="#map"/>
<text class="an" x="489.2" y="254.5">from grib files provided by ECMWF</text>
<text class="an" x="489.2" y="274.0">©2026 sb@irizone.net</text>
</g>
</svg>
</body>
</html>
